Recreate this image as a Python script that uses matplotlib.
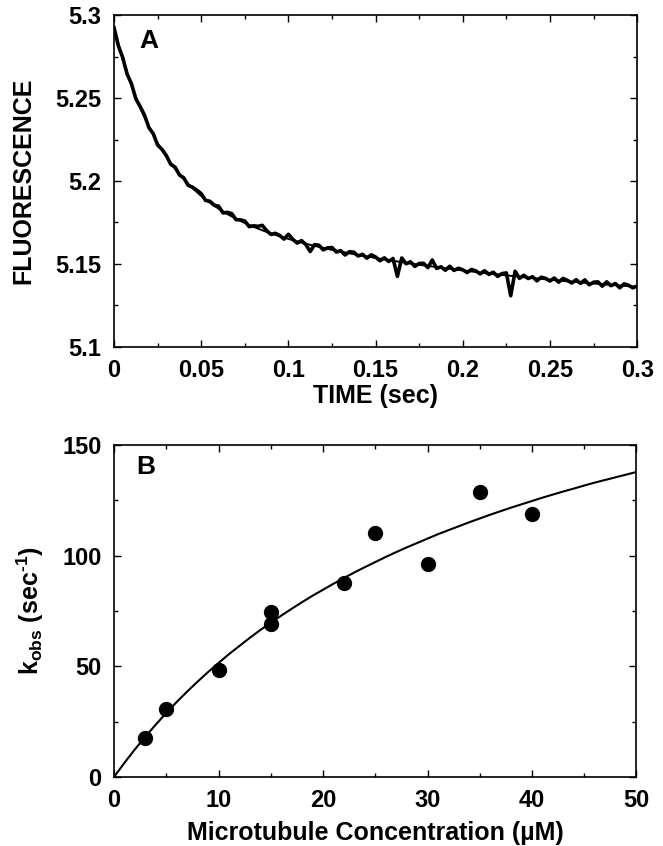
import matplotlib
matplotlib.use("Agg")
import matplotlib.pyplot as plt
from matplotlib.ticker import MultipleLocator

# ---- Panel A: fluorescence transient (0.0025 s sampling) ----
trace_time_step = 0.0025
trace_a = [
    5.2925, 5.2815, 5.2744, 5.2645, 5.2587, 5.2496, 5.2449, 5.2397, 5.2322, 5.2286,
    5.2217, 5.2191, 5.2154, 5.2101, 5.2084, 5.2037, 5.2019, 5.1974, 5.1963, 5.1945,
    5.1924, 5.1883, 5.1878, 5.1854, 5.1848, 5.1808, 5.1811, 5.1804, 5.1767, 5.1766,
    5.1759, 5.1725, 5.1730, 5.1727, 5.1733, 5.1701, 5.1678, 5.1685, 5.1672, 5.1650,
    5.1679, 5.1649, 5.1626, 5.1641, 5.1617, 5.1575, 5.1617, 5.1613, 5.1585, 5.1597,
    5.1599, 5.1572, 5.1580, 5.1554, 5.1574, 5.1571, 5.1548, 5.1558, 5.1535, 5.1555,
    5.1542, 5.1519, 5.1537, 5.1515, 5.1533, 5.1425, 5.1536, 5.1501, 5.1513, 5.1485,
    5.1503, 5.1504, 5.1478, 5.1524, 5.1473, 5.1483, 5.1462, 5.1486, 5.1461, 5.1474,
    5.1465, 5.1448, 5.1467, 5.1458, 5.1440, 5.1459, 5.1437, 5.1450, 5.1425, 5.1442,
    5.1446, 5.1308, 5.1456, 5.1413, 5.1432, 5.1412, 5.1423, 5.1398, 5.1420, 5.1413,
    5.1397, 5.1415, 5.1390, 5.1413, 5.1401, 5.1385, 5.1405, 5.1383, 5.1404, 5.1374,
    5.1390, 5.1392, 5.1366, 5.1392, 5.1369, 5.1382, 5.1356, 5.1380, 5.1372, 5.1356,
    5.1367,
]
trace_time = [i * trace_time_step for i in range(len(trace_a))]

# fitted curve, 0.005 s sampling
fit_time_step = 0.005
fit_a = [
    5.2920, 5.2734, 5.2575, 5.2441, 5.2327, 5.2229, 5.2145, 5.2073, 5.2011, 5.1957,
    5.1910, 5.1869, 5.1833, 5.1801, 5.1772, 5.1747, 5.1724, 5.1703, 5.1684, 5.1667,
    5.1651, 5.1636, 5.1622, 5.1609, 5.1597, 5.1585, 5.1575, 5.1564, 5.1554, 5.1545,
    5.1536, 5.1527, 5.1519, 5.1511, 5.1503, 5.1495, 5.1488, 5.1481, 5.1474, 5.1467,
    5.1461, 5.1455, 5.1448, 5.1443, 5.1437, 5.1431, 5.1426, 5.1420, 5.1415, 5.1410,
    5.1405, 5.1400, 5.1395, 5.1391, 5.1386, 5.1382, 5.1378, 5.1374, 5.1370, 5.1366,
    5.1362,
]
fit_time = [i * fit_time_step for i in range(len(fit_a))]

# ---- Panel B: kobs vs microtubule concentration ----
mt_conc = [3, 5, 10, 15, 15, 22, 25, 30, 35, 40]
kobs = [17.6, 30.7, 48.2, 74.4, 69.3, 87.7, 110.2, 96.2, 128.6, 118.8]

fit_conc = list(range(51))
fit_kobs = [
    0.0, 6.4, 12.5, 18.2, 23.7, 28.9, 33.9, 38.6, 43.1, 47.4,
    51.5, 55.5, 59.2, 62.9, 66.4, 69.7, 72.9, 76.0, 79.0, 81.9,
    84.6, 87.3, 89.9, 92.4, 94.8, 97.1, 99.4, 101.6, 103.7, 105.7,
    107.7, 109.7, 111.5, 113.3, 115.1, 116.8, 118.5, 120.1, 121.7, 123.2,
    124.7, 126.2, 127.6, 129.0, 130.3, 131.7, 133.0, 134.2, 135.4, 136.6,
    137.8,
]

plt.rcParams.update({
    "font.family": ["Liberation Sans", "DejaVu Sans"],
    "font.weight": "bold",
    "axes.labelweight": "bold",
    "axes.linewidth": 1.2,
    "xtick.labelsize": 17,
    "ytick.labelsize": 17,
    "mathtext.fontset": "custom",
    "mathtext.rm": "Liberation Sans:bold",
    "mathtext.it": "Liberation Sans:bold",
    "mathtext.bf": "Liberation Sans:bold",
})

fig = plt.figure(figsize=(6.63, 8.46), dpi=100)
ax_a = fig.add_axes([0.172, 0.590, 0.789, 0.392])
ax_b = fig.add_axes([0.172, 0.0816, 0.788, 0.3924])


def style_axes(ax):
    ax.tick_params(which="both", direction="in", top=True, right=True, width=1.0)
    ax.tick_params(which="major", length=5, pad=9)
    ax.tick_params(which="minor", length=3)


ax_a.plot(trace_time, trace_a, color="black", linewidth=2.6, solid_joinstyle="round")
ax_a.plot(fit_time, fit_a, color="black", linewidth=1.4)
ax_a.set_xlim(0, 0.3)
ax_a.set_ylim(5.1, 5.3)
ax_a.xaxis.set_minor_locator(MultipleLocator(0.025))
ax_a.yaxis.set_minor_locator(MultipleLocator(0.025))
ax_a.set_xticks([0, 0.05, 0.1, 0.15, 0.2, 0.25, 0.3])
ax_a.set_xticklabels(["0", "0.05", "0.1", "0.15", "0.2", "0.25", "0.3"])
ax_a.set_yticks([5.1, 5.15, 5.2, 5.25, 5.3])
ax_a.set_yticklabels(["5.1", "5.15", "5.2", "5.25", "5.3"])
style_axes(ax_a)
ax_a.set_xlabel("TIME (sec)", fontsize=18, labelpad=1)
ax_a.set_ylabel("FLUORESCENCE", fontsize=18)
ax_a.yaxis.set_label_coords(-0.151, 0.5)
ax_a.text(0.048, 0.958, "A", transform=ax_a.transAxes, fontsize=19,
          fontweight="bold", va="top", ha="left")

ax_b.plot(fit_conc, fit_kobs, color="black", linewidth=1.5)
ax_b.plot(mt_conc, kobs, "o", color="black", markersize=10, zorder=3)
ax_b.set_xlim(0, 50)
ax_b.set_ylim(0, 150)
ax_b.xaxis.set_major_locator(MultipleLocator(10))
ax_b.xaxis.set_minor_locator(MultipleLocator(5))
ax_b.yaxis.set_major_locator(MultipleLocator(50))
ax_b.yaxis.set_minor_locator(MultipleLocator(25))
style_axes(ax_b)
ax_b.set_xlabel("Microtubule Concentration (\u00b5M)", fontsize=18, labelpad=6)
# plain hyphen in the exponent, as in the original figure
ax_b.set_ylabel("k$_{\\rm obs}$ (sec$^{\\rm \u2010 1}$)", fontsize=18)
ax_b.yaxis.set_label_coords(-0.13, 0.5)
ax_b.text(0.042, 0.97, "B", transform=ax_b.transAxes, fontsize=19,
          fontweight="bold", va="top", ha="left")

fig.savefig("out.png", dpi=100)
plt.close(fig)
